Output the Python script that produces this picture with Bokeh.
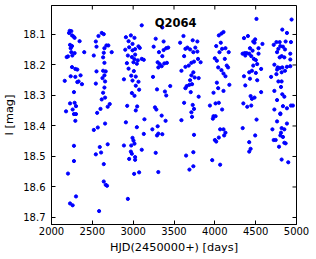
import math
from bokeh.plotting import figure
from bokeh.models import Range1d, FixedTicker, Label, ColumnDataSource
from bokeh.embed import file_html
from bokeh.resources import INLINE

# HJD(2450000+) [days] and I [mag], read per observing season
s1_x = [2223, 2243, 2215, 2251, 2271, 2283, 2344, 2227, 2251, 2235, 2243, 2283, 2202, 2186, 2255, 2401,
        2251, 2292, 2316, 2235, 2292, 2356, 2332, 2316, 2373, 2162, 2275, 2227, 2283, 2300, 2259, 2178,
        2275, 2300, 2292, 2275, 2275, 2202, 2300, 2227, 2259]
s1_y = [18.088, 18.089, 18.095, 18.103, 18.107, 18.111, 18.122, 18.134, 18.138, 18.145, 18.158, 18.161,
        18.172, 18.174, 18.169, 18.158, 18.207, 18.213, 18.215, 18.237, 18.239, 18.234, 18.254, 18.256,
        18.263, 18.252, 18.289, 18.326, 18.324, 18.335, 18.346, 18.352, 18.361, 18.361, 18.383, 18.465,
        18.515, 18.556, 18.631, 18.654, 18.660]

s2_x = [2615, 2640, 2575, 2543, 2672, 2696, 2551, 2648, 2737, 2640, 2518, 2632, 2648, 2551, 2632, 2664,
        2648, 2624, 2543, 2656, 2648, 2632, 2656, 2615, 2713, 2688, 2600, 2559, 2656, 2567, 2518, 2688,
        2591, 2607, 2543, 2640, 2640, 2664, 2680, 2583]
s2_y = [18.095, 18.099, 18.105, 18.123, 18.136, 18.136, 18.140, 18.145, 18.158, 18.160, 18.169, 18.175,
        18.193, 18.221, 18.219, 18.221, 18.234, 18.243, 18.261, 18.254, 18.274, 18.291, 18.307, 18.313,
        18.328, 18.337, 18.344, 18.357, 18.392, 18.405, 18.413, 18.460, 18.469, 18.487, 18.493, 18.525,
        18.582, 18.593, 18.596, 18.679]

s3_x = [3105, 2972, 2911, 3016, 2944, 2992, 3065, 2951, 3081, 3024, 2903, 2992, 3024, 2935, 2984, 3016,
        3057, 3105, 3130, 2923, 3004, 3045, 2944, 3008, 2976, 3032, 2887, 2992, 3065, 3032, 3073, 2984,
        3016, 3049, 2927, 3032, 3138, 2911, 3045, 2992, 3004, 3016, 2976, 2887, 2972, 2984, 3105, 3024,
        3024, 2951, 3073, 3012, 2935, 3130]
s3_y = [18.070, 18.103, 18.109, 18.111, 18.122, 18.131, 18.139, 18.142, 18.144, 18.148, 18.150, 18.152,
        18.166, 18.169, 18.174, 18.181, 18.185, 18.180, 18.183, 18.194, 18.191, 18.196, 18.212, 18.220,
        18.235, 18.238, 18.247, 18.251, 18.255, 18.268, 18.281, 18.292, 18.301, 18.336, 18.334, 18.349,
        18.378, 18.388, 18.404, 18.439, 18.448, 18.458, 18.464, 18.464, 18.484, 18.491, 18.478, 18.502,
        18.511, 18.508, 18.552, 18.557, 18.639, 18.426]

s4_x = [3357, 3276, 3373, 3251, 3405, 3429, 3373, 3316, 3357, 3300, 3324, 3349, 3381, 3413, 3308, 3243,
        3292, 3454, 3389, 3405, 3267, 3284, 3349, 3397, 3235, 3300, 3308, 3292, 3357, 3276, 3308]
s4_y = [18.077, 18.114, 18.123, 18.140, 18.145, 18.143, 18.151, 18.158, 18.171, 18.191, 18.197, 18.204,
        18.195, 18.193, 18.208, 18.239, 18.280, 18.269, 18.287, 18.300, 18.339, 18.346, 18.366, 18.383,
        18.411, 18.401, 18.425, 18.431, 18.427, 18.488, 18.551]

s5_x = [3616, 3729, 3786, 3575, 3664, 3761, 3640, 3697, 3786, 3737, 3624, 3794, 3745, 3826, 3713, 3680,
        3640, 3591, 3737, 3713, 3753, 3802, 3697, 3721, 3656, 3689, 3640, 3705, 3802, 3624, 3729, 3745,
        3713, 3591, 3721, 3745, 3648, 3737, 3737, 3689]
s5_y = [18.105, 18.119, 18.123, 18.127, 18.143, 18.143, 18.147, 18.149, 18.156, 18.158, 18.171, 18.180,
        18.189, 18.191, 18.193, 18.202, 18.206, 18.219, 18.224, 18.234, 18.241, 18.243, 18.250, 18.263,
        18.269, 18.265, 18.276, 18.289, 18.304, 18.324, 18.331, 18.344, 18.355, 18.381, 18.370, 18.429,
        18.497, 18.486, 18.532, 18.543]

s6_x = [4106, 4081, 4049, 4073, 4017, 4130, 4089, 4057, 4170, 4000, 4025, 4122, 4041, 4146, 4162, 4081,
        4106, 4130, 4025, 4041, 4178, 4106, 3984, 4009, 4049, 4089, 3940, 3984, 4009, 3976, 4065, 4106,
        4130, 4114, 4049, 4000, 4017, 3968, 4065]
s6_y = [18.092, 18.097, 18.103, 18.127, 18.138, 18.145, 18.147, 18.158, 18.158, 18.178, 18.186, 18.180,
        18.208, 18.202, 18.208, 18.217, 18.228, 18.237, 18.258, 18.276, 18.265, 18.285, 18.291, 18.326,
        18.324, 18.346, 18.333, 18.368, 18.368, 18.376, 18.411, 18.411, 18.422, 18.431, 18.438, 18.446,
        18.451, 18.512, 18.527]

s7_x = [4510, 4357, 4405, 4494, 4470, 4486, 4583, 4430, 4535, 4462, 4365, 4389, 4421, 4340, 4373, 4446,
        4535, 4478, 4502, 4519, 4567, 4470, 4454, 4421, 4502, 4357, 4430, 4519, 4373, 4567, 4438, 4454,
        4486, 4349, 4446, 4397, 4511, 4341, 4494, 4421, 4438, 4421]
s7_y = [18.049, 18.112, 18.105, 18.116, 18.123, 18.127, 18.131, 18.145, 18.145, 18.153, 18.161, 18.161,
        18.163, 18.163, 18.169, 18.171, 18.163, 18.180, 18.184, 18.197, 18.213, 18.202, 18.219, 18.224,
        18.226, 18.237, 18.245, 18.250, 18.267, 18.289, 18.302, 18.311, 18.307, 18.326, 18.333, 18.337,
        18.379, 18.407, 18.431, 18.453, 18.475, 18.484]

s8_x = [4940, 4826, 4883, 4754, 4794, 4867, 4932, 4721, 4802, 4834, 4778, 4859, 4762, 4924, 4818, 4851,
        4794, 4924, 4729, 4770, 4826, 4883, 4924, 4762, 4794, 4689, 4754, 4818, 4859, 4778, 4818, 4810,
        4729, 4826, 4851, 4762, 4932, 4956, 4834, 4883, 4729, 4802, 4802, 4762, 4883, 4705, 4818, 4851,
        4810, 4802, 4834, 4721, 4745, 4867, 4851, 4786, 4818, 4899]
s8_y = [18.051, 18.084, 18.095, 18.125, 18.125, 18.123, 18.125, 18.134, 18.138, 18.140, 18.147, 18.149,
        18.158, 18.163, 18.171, 18.175, 18.175, 18.182, 18.199, 18.208, 18.208, 18.206, 18.204, 18.215,
        18.210, 18.239, 18.230, 18.224, 18.219, 18.254, 18.254, 18.272, 18.285, 18.296, 18.304, 18.315,
        18.333, 18.333, 18.335, 18.342, 18.346, 18.359, 18.361, 18.385, 18.392, 18.411, 18.407, 18.411,
        18.422, 18.431, 18.436, 18.446, 18.446, 18.457, 18.455, 18.468, 18.510, 18.519]

x_ticks = [2000, 2500, 3000, 3500, 4000, 4500, 5000]
y_ticks = [18.1, 18.2, 18.3, 18.4, 18.5, 18.6, 18.7]
object_name = "Q2064"

hjd = s1_x + s2_x + s3_x + s4_x + s5_x + s6_x + s7_x + s8_x
mag = s1_y + s2_y + s3_y + s4_y + s5_y + s6_y + s7_y + s8_y
src = ColumnDataSource(dict(x=hjd, y=mag))

FONT = "DejaVu Sans"

xr = Range1d(2000, 5000)
yr = Range1d(18.723, 18.005)
p = figure(width=316, height=259, x_range=xr, y_range=yr,
           output_backend="svg", toolbar_location=None,
           min_border_left=49, min_border_right=20, min_border_top=5, min_border_bottom=35,
           x_axis_label="HJD(2450000+) [days]", y_axis_label="I [mag]")
p.grid.visible = False
p.outline_line_color = "black"
p.outline_line_width = 1
p.background_fill_color = "white"
p.border_fill_color = "white"

p.scatter("x", "y", source=src, size=3.2, color="#0000ff", line_color="#0000ff")

for ax, ticks in ((p.xaxis[0], x_ticks), (p.yaxis[0], y_ticks)):
    ax.ticker = FixedTicker(ticks=ticks)
    ax.major_tick_in = 4
    ax.major_tick_out = 0
    ax.minor_tick_line_color = None
    ax.axis_line_color = "black"
    ax.major_tick_line_color = "black"
    ax.major_label_text_font = FONT
    ax.major_label_text_font_size = "10px"
    ax.major_label_text_color = "black"
    ax.axis_label_text_font = FONT
    ax.axis_label_text_font_style = "normal"
    ax.axis_label_text_color = "black"
    ax.axis_label_text_font_size = "11.3px"

p.xaxis[0].major_label_standoff = 2
p.xaxis[0].axis_label_standoff = 3
p.yaxis[0].major_label_standoff = 6
p.yaxis[0].axis_label_standoff = 4

# inward ticks on the right and top edges of the frame (4 px long)
p.ray(x=[xr.end] * len(y_ticks), y=y_ticks, length=4, length_units="screen", angle=math.pi,
      line_color="black", line_width=1)
p.ray(x=x_ticks, y=[yr.end] * len(x_ticks), length=4, length_units="screen", angle=-math.pi / 2,
      line_color="black", line_width=1)

p.add_layout(Label(x=3520, y=18.062, text=object_name, text_font=FONT, text_font_size="11.5px",
                   text_font_style="bold", text_align="center", text_baseline="middle",
                   text_color="black"))

open("out.html", "w").write(file_html(p, INLINE))
